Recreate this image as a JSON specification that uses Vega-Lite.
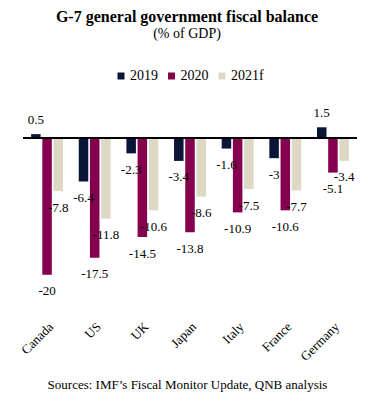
{
  "$schema": "https://vega.github.io/schema/vega-lite/v6.json",
  "width": 334,
  "height": 199,
  "autosize": {"type": "none"},
  "padding": {"left": 23, "top": 117, "right": 11, "bottom": 95},
  "background": "white",
  "config": {
    "view": {"stroke": null},
    "font": "Liberation Serif",
    "legend": {"labelFont": "Liberation Serif", "labelFontSize": 14},
    "locale": {"number": {"decimal": ".", "thousands": ",", "grouping": [3], "currency": ["$", ""], "minus": "-"}}
  },
  "title": {
    "text": "G-7 general government fiscal balance",
    "subtitle": "(% of GDP)",
    "font": "Liberation Serif",
    "fontSize": 16,
    "fontWeight": "bold",
    "color": "#000000",
    "subtitleFont": "Liberation Serif",
    "subtitleFontSize": 14,
    "subtitleColor": "#000000",
    "subtitlePadding": 2,
    "anchor": "middle",
    "frame": "group",
    "dx": -3,
    "offset": 28
  },
  "data": {
    "values": [
      {"country": "Canada", "year": "2019", "value": 0.5},
      {"country": "Canada", "year": "2020", "value": -20},
      {"country": "Canada", "year": "2021f", "value": -7.8},
      {"country": "US", "year": "2019", "value": -6.4},
      {"country": "US", "year": "2020", "value": -17.5},
      {"country": "US", "year": "2021f", "value": -11.8},
      {"country": "UK", "year": "2019", "value": -2.3},
      {"country": "UK", "year": "2020", "value": -14.5},
      {"country": "UK", "year": "2021f", "value": -10.6},
      {"country": "Japan", "year": "2019", "value": -3.4},
      {"country": "Japan", "year": "2020", "value": -13.8},
      {"country": "Japan", "year": "2021f", "value": -8.6},
      {"country": "Italy", "year": "2019", "value": -1.6},
      {"country": "Italy", "year": "2020", "value": -10.9},
      {"country": "Italy", "year": "2021f", "value": -7.5},
      {"country": "France", "year": "2019", "value": -3},
      {"country": "France", "year": "2020", "value": -10.6},
      {"country": "France", "year": "2021f", "value": -7.7},
      {"country": "Germany", "year": "2019", "value": 1.5},
      {"country": "Germany", "year": "2020", "value": -5.1},
      {"country": "Germany", "year": "2021f", "value": -3.4}
    ]
  },
  "encoding": {
    "x": {
      "field": "country",
      "type": "nominal",
      "sort": null,
      "scale": {"paddingInner": 0.33, "paddingOuter": 0.17},
      "axis": {
        "title": "Sources: IMF\u2019s Fiscal Monitor Update, QNB analysis",
        "titleFont": "Liberation Serif",
        "titleFontSize": 13,
        "titleFontWeight": "normal",
        "titleColor": "#000000",
        "titlePadding": 15,
        "titleX": 164,
        "domain": false,
        "ticks": false,
        "labelAngle": -45,
        "labelFont": "Liberation Serif",
        "labelFontSize": 13,
        "labelColor": "#000000",
        "labelPadding": 4
      }
    },
    "xOffset": {"field": "year", "type": "nominal", "scale": {"paddingInner": 0.15}},
    "y": {
      "field": "value",
      "type": "quantitative",
      "scale": {"domain": [-26, 3], "nice": false},
      "axis": null
    }
  },
  "layer": [
    {
      "mark": {"type": "bar"},
      "encoding": {
        "color": {
          "field": "year",
          "type": "nominal",
          "scale": {"domain": ["2019", "2020", "2021f"], "range": ["#0b1538", "#85004f", "#ddd9c5"]},
          "legend": {
            "title": null,
            "orient": "none",
            "direction": "horizontal",
            "legendX": 91,
            "legendY": -48,
            "padding": 0,
            "symbolType": "square",
            "symbolSize": 49,
            "symbolStrokeWidth": 0,
            "labelFont": "Liberation Serif",
            "labelFontSize": 14,
            "labelColor": "#000000",
            "labelOffset": 2,
            "columnPadding": 6.5,
            "encode": {"labels": {"update": {"font": {"value": "Liberation Serif"}, "fontSize": {"value": 14}}}}
          }
        }
      }
    },
    {
      "mark": {"type": "rule", "color": "#000000", "strokeWidth": 1.3},
      "encoding": {"y": {"datum": 0}, "x": null, "xOffset": null}
    },
    {
      "transform": [{"filter": "datum.value < 0"}],
      "mark": {"type": "text", "dy": 16.5, "fontSize": 13, "font": "Liberation Serif", "color": "#000000"},
      "encoding": {"text": {"field": "value", "type": "quantitative"}}
    },
    {
      "transform": [{"filter": "datum.value >= 0"}],
      "mark": {"type": "text", "dy": -14, "fontSize": 13, "font": "Liberation Serif", "color": "#000000"},
      "encoding": {"text": {"field": "value", "type": "quantitative"}}
    }
  ]
}
